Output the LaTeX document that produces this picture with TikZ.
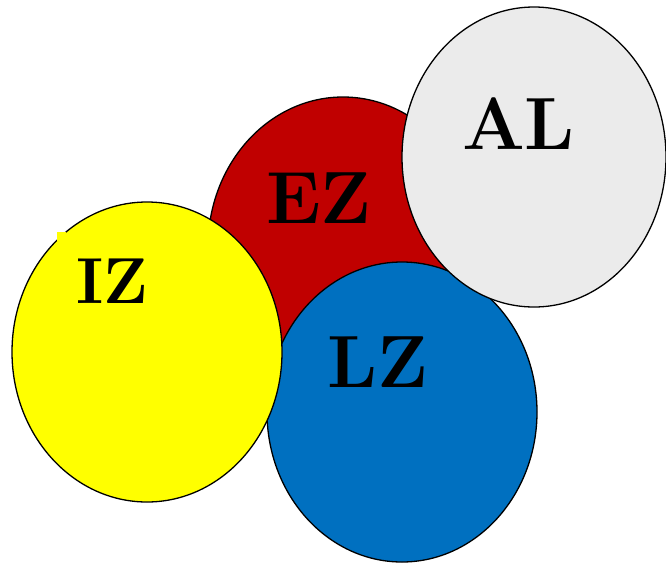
\documentclass[tikz,border=0pt]{standalone}
\usepackage{fontspec}
\definecolor{ezred}{HTML}{C00000}
\definecolor{algrey}{HTML}{EBEBEB}
\definecolor{lzblue}{HTML}{0070C0}
\definecolor{izyellow}{HTML}{FFFF00}
\begin{document}
\begin{tikzpicture}[x=1pt,y=-1pt,
  zone/.style={draw=black,line width=1.3pt},
  zonelabel/.style={anchor=base,inner sep=0pt,font=\fontsize{74}{74}\selectfont\bfseries}]
\useasboundingbox (0,0) rectangle (666,563);
% overlapping zones, back to front
\filldraw[zone,fill=ezred] (343,247) ellipse [x radius=135,y radius=150];
\filldraw[zone,fill=lzblue] (402,412) ellipse [x radius=135,y radius=150];
\filldraw[zone,fill=izyellow] (147,352) ellipse [x radius=135,y radius=150];
\filldraw[zone,fill=algrey] (534,157) ellipse [x radius=132,y radius=150];
% small yellow patch at the upper left of the yellow zone
\fill[izyellow] (57,232) rectangle (66,241);
% labels
\node[zonelabel] (ez) at (319,223) {EZ};
\node[zonelabel] (al) at (518.5,149) {AL};
\node[zonelabel] (lz) at (377.5,387) {LZ};
\node[zonelabel,font=\fontsize{65}{65}\selectfont\bfseries] (iz) at (112.5,303) {IZ};
\end{tikzpicture}
\end{document}
